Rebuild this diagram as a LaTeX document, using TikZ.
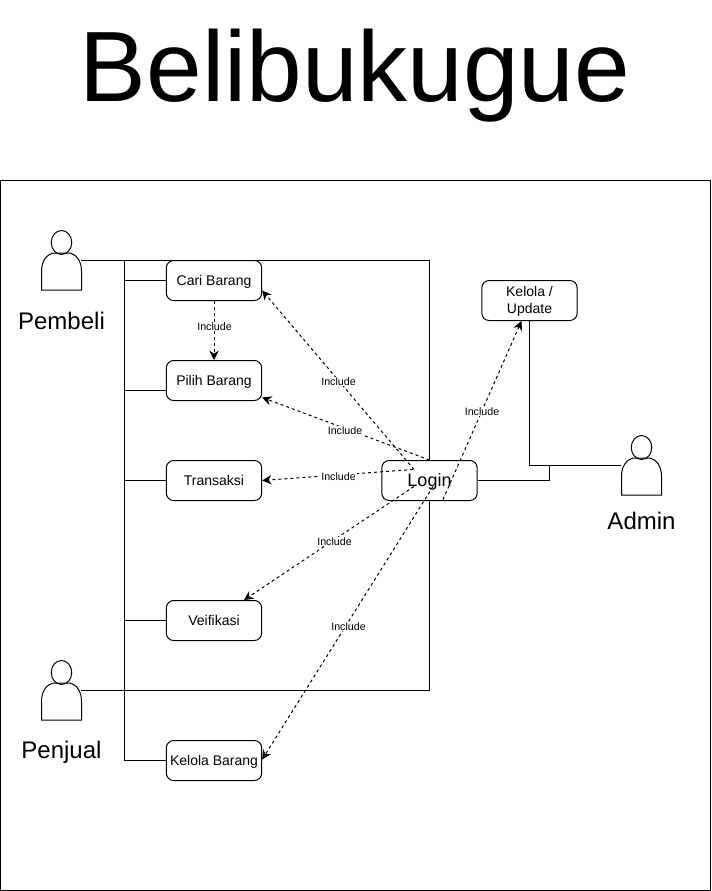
\documentclass[tikz,border=0pt]{standalone}
\usepackage{fontspec}
\setmainfont{Liberation Sans}
\usetikzlibrary{arrows.meta}

\tikzset{
    usecase/.style={draw,fill=white,rounded corners=5.5pt,minimum width=71.5pt,minimum height=30pt,inner sep=0pt,line width=0.75pt,align=center,text height=9.5pt,text depth=2pt,font=\fontsize{10.5}{12.5}\selectfont},
    actorbox/.style={minimum width=30pt,minimum height=45pt,inner sep=0pt},
    actortext/.style={inner sep=0pt,font=\fontsize{18}{20}\selectfont},
    includetext/.style={fill=white,inner sep=0.75pt,font=\fontsize{8}{9}\selectfont},
    includeline/.style={dash pattern={on 2.25pt off 2.25pt},line width=0.75pt,-{Stealth[length=7pt,width=7pt]}},
    solidline/.style={line width=0.75pt},
    actorshape/.pic={
        \draw [line width=0.75pt] (0.5,18) ellipse (10.25 and 12);
        \draw [line width=0.75pt] (-19.5,-29.5) -- (-19.5,-11) .. controls (-19.5,0) and (-14,6) .. (-8,7.5) -- (9,7.5) .. controls (15,6) and (20.5,0) .. (20.5,-11) -- (20.5,-29.5) -- cycle ;
    }
}

\begin{document}
\begin{tikzpicture}[x=0.75pt,y=0.75pt,yscale=-1,xscale=1,shift={(0,-0.5)}]
    \useasboundingbox (0,0.5) rectangle (711,891.5);

    %Shape: Frame
    \draw [solidline] (0.5,181) rectangle (710.5,890.5);

    % Text Node
    \node (title) [anchor=base,inner sep=0pt,font=\fontsize{75}{80}\selectfont] at (355,102.5) {Belibukugue};

    %Actors
    \node (pembeli) [actorbox] at (61,261) {};
    \node (penjual) [actorbox] at (61,691) {};
    \node (admin) [actorbox] at (641,466) {};
    \pic at (pembeli.center) {actorshape};
    \pic at (penjual.center) {actorshape};
    \pic at (admin.center) {actorshape};

    %Straight Lines
    \coordinate (frameTop) at (429,261);
    \coordinate (frameBot) at (429,691);
    \coordinate (busTop) at (124,261);
    \coordinate (busPilih) at (124,391);
    \coordinate (busBot) at (124,761);
    \draw [solidline] (pembeli.east) -- (frameTop) -- (frameBot) -- (penjual.east);
    \draw [solidline] (busTop) -- (busBot);

    %Use cases
    \node (cari) [usecase] at (214,281) {Cari Barang};
    \node (pilih) [usecase] at (214,381) {Pilih Barang};
    \node (transaksi) [usecase] at (214,481) {Transaksi};
    \node (veifikasi) [usecase] at (214,621) {Veifikasi};
    \node (kelolabrg) [usecase] at (214,761) {Kelola Barang};
    \node (login) [usecase,text height=12.5pt,text depth=2.8pt,font=\fontsize{13.5}{15}\selectfont] at (429.5,481) {Login};
    \node (update) [usecase,text height=22pt,text depth=3pt] at (529.5,301) {Kelola /\\Update};

    %Straight Lines
    \draw [solidline] (cari.west) -- (cari.west -| busTop);
    \draw [solidline] (busPilih -| pilih.west) -- (busPilih);
    \draw [solidline] (transaksi.west) -- (transaksi.west -| busTop);
    \draw [solidline] (veifikasi.west) -- (veifikasi.west -| busTop);
    \draw [solidline] (kelolabrg.west) -- (busBot);

    \coordinate (adminJoin) at (549,466);
    \draw [solidline] (update.south) -- (update.south |- admin.west) -- (admin.west);
    \draw [solidline] (login.east) -- (adminJoin |- login.east) -- (adminJoin);

    %Dashed Lines
    \draw [includeline] (cari.south) -- (pilih.north);
    \draw [includeline] ([shift={(-15.5,-11)}]login.center) -- ([shift={(0,10)}]cari.east);
    \draw [includeline] (login.north) -- ([shift={(0,17)}]pilih.east);
    \draw [includeline] ([shift={(-16.5,-11)}]login.center) -- (transaksi.east);
    \draw [includeline] ([shift={(-15.5,6)}]login.center) -- ([shift={(30,0)}]veifikasi.north);
    \draw [includeline] ([shift={(3.5,6)}]login.center) -- ([shift={(0,-1)}]kelolabrg.east);
    \draw [includeline] ([shift={(13.5,19)}]login.center) -- ([shift={(-8,0)}]update.south);

    % Text Node
    \node (inclA) [includetext] at (214.5,327) {Include};
    \node (inclB) [includetext] at (338.5,382) {Include};
    \node (inclC) [includetext] at (345,431) {Include};
    \node (inclD) [includetext] at (338.5,477) {Include};
    \node (inclE) [includetext] at (334.5,542) {Include};
    \node (inclF) [includetext] at (348.5,627) {Include};
    \node (inclG) [includetext] at (482,412) {Include};

    \node (pembeliText) [actortext] at (61.5,321) {Pembeli};
    \node (penjualText) [actortext] at (61.5,752.5) {Penjual};
    \node (adminText) [actortext] at (641.5,521) {Admin};
\end{tikzpicture}
\end{document}
